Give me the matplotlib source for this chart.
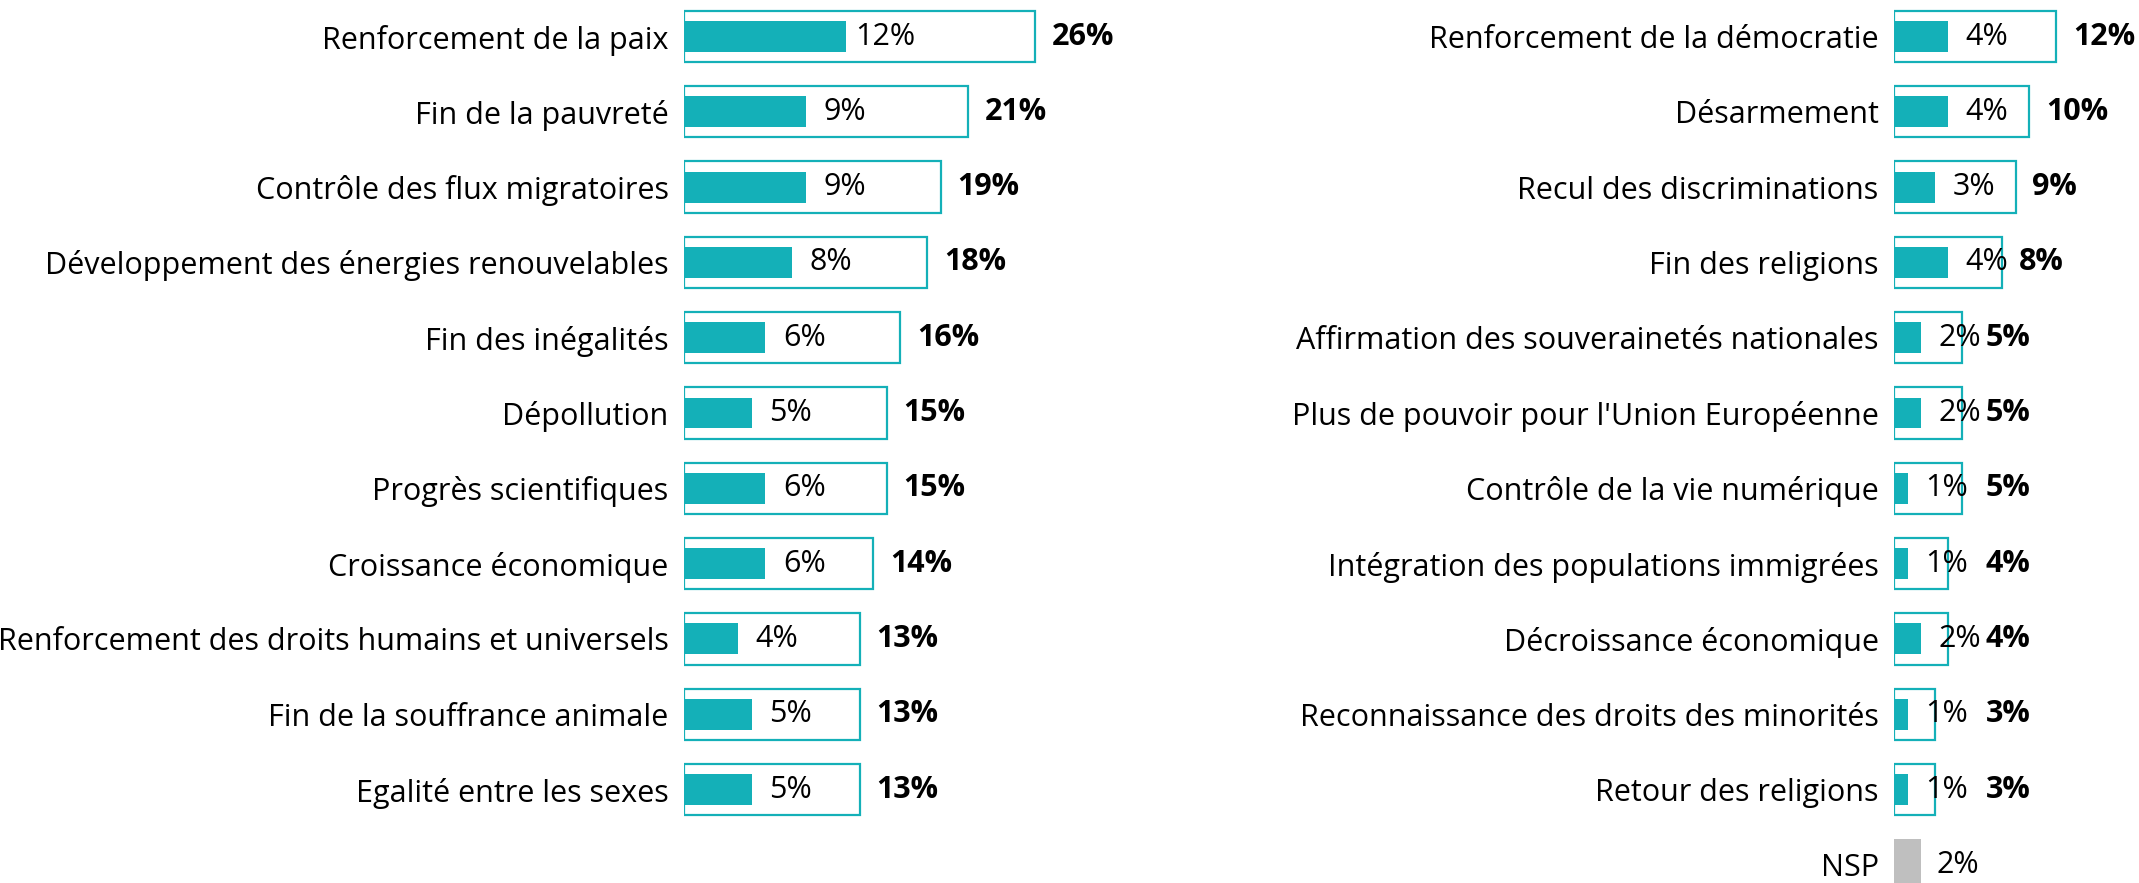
import matplotlib
matplotlib.use("Agg")
import matplotlib.pyplot as plt

# données (total cité / cité en premier)
left_labels = [
    "Renforcement de la paix",
    "Fin de la pauvreté",
    "Contrôle des flux migratoires",
    "Développement des énergies renouvelables",
    "Fin des inégalités",
    "Dépollution",
    "Progrès scientifiques",
    "Croissance économique",
    "Renforcement des droits humains et universels",
    "Fin de la souffrance animale",
    "Egalité entre les sexes",
]
left_total = [26, 21, 19, 18, 16, 15, 15, 14, 13, 13, 13]
left_first = [12, 9, 9, 8, 6, 5, 6, 6, 4, 5, 5]

right_labels = [
    "Renforcement de la démocratie",
    "Désarmement",
    "Recul des discriminations",
    "Fin des religions",
    "Affirmation des souverainetés nationales",
    "Plus de pouvoir pour l'Union Européenne",
    "Contrôle de la vie numérique",
    "Intégration des populations immigrées",
    "Décroissance économique",
    "Reconnaissance des droits des minorités",
    "Retour des religions",
]
right_total = [12, 10, 9, 8, 5, 5, 5, 4, 4, 3, 3]
right_first = [4, 4, 3, 4, 2, 2, 1, 1, 2, 1, 1]

nsp_label = "NSP"
nsp_value = 2

TEAL = "#14B0B8"
GREY = "#BFBFBF"
W, H = 2139, 883
PX_PER_PCT = 13.5
ROW0, ROW_STEP = 36.5, 75.3

plt.rcParams["font.family"] = ["Open Sans", "DejaVu Sans"]
FS = 22

fig = plt.figure(figsize=(W / 100, H / 100), dpi=100)


def make_axes(x0_px, x1_px):
    ax = fig.add_axes([x0_px / W, 0, (x1_px - x0_px) / W, 1])
    ax.set_xlim(0, (x1_px - x0_px) / PX_PER_PCT)
    ax.set_ylim((H - ROW0) / ROW_STEP, -ROW0 / ROW_STEP)
    for s in ax.spines.values():
        s.set_visible(False)
    ax.set_xticks([])
    ax.tick_params(axis="y", length=0, pad=11, labelsize=FS)
    return ax


def draw_panel(ax, labels, total, first, min_outer=0):
    ys = list(range(len(labels)))
    ax.barh(ys, total, height=0.68, left=0, facecolor="white",
            edgecolor=TEAL, linewidth=1.6)
    ax.barh(ys, first, height=0.41, left=0, color=TEAL)
    for y, t, f in zip(ys, total, first):
        ax.text(f + 2.9, y, f"{f}%", ha="center", va="center", fontsize=FS)
        # l'étiquette du total est repoussée quand la barre est trop courte
        ax.text(max(t + 1.25, min_outer), y, f"{t}%", ha="left", va="center",
                fontsize=FS, fontweight="bold")
    return ys


ax_l = make_axes(684, 1250)
ys_l = draw_panel(ax_l, left_labels, left_total, left_first)
ax_l.set_yticks(ys_l)
ax_l.set_yticklabels(left_labels)

ax_r = make_axes(1894, W)
ys_r = draw_panel(ax_r, right_labels, right_total, right_first, min_outer=6.8)
y_nsp = len(right_labels)
ax_r.barh([y_nsp], [nsp_value], height=0.68, color=GREY)
ax_r.text(nsp_value + 2.7, y_nsp, f"{nsp_value}%", ha="center", va="center", fontsize=FS)
ax_r.set_yticks(ys_r + [y_nsp])
ax_r.set_yticklabels(right_labels + [nsp_label])

fig.savefig("out.png", dpi=100)
